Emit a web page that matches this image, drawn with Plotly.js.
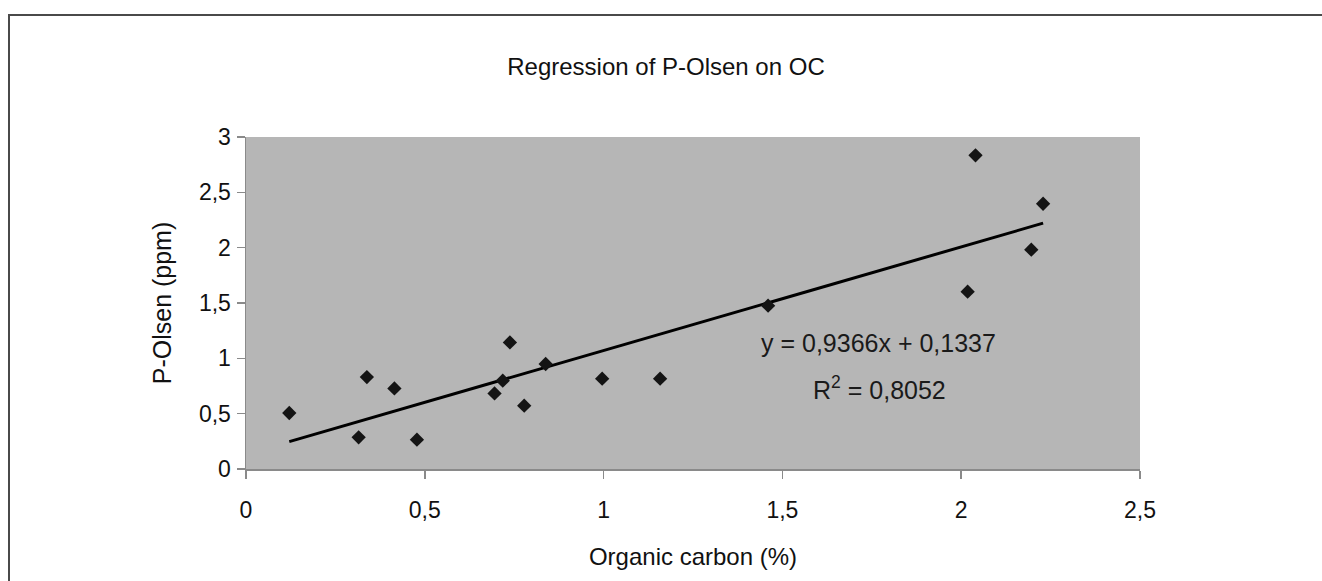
<!DOCTYPE html>
<html>
<head>
<meta charset="utf-8">
<script src="https://cdn.plot.ly/plotly-3.0.1.min.js"></script>
<style>
  html, body { margin: 0; padding: 0; overflow: hidden; background: #fff; }
  #chart { width: 1322px; height: 581px; }
  #frame { position: absolute; left: 8px; top: 14px; width: 3000px; height: 3000px;
           border: 2px solid #4a4a4a; pointer-events: none; box-sizing: border-box; }
</style>
</head>
<body>
<div id="chart"></div>
<div id="frame"></div>
<script>
// Organic carbon (%) and P-Olsen (ppm) readings
const organicCarbon = [0.121, 0.315, 0.338, 0.415, 0.478, 0.695, 0.718, 0.738, 0.778, 0.838, 0.996, 1.158, 1.460, 2.018, 2.040, 2.196, 2.229];
const pOlsen        = [0.506, 0.286, 0.831, 0.728, 0.265, 0.683, 0.798, 1.144, 0.572, 0.949, 0.816, 0.816, 1.476, 1.602, 2.834, 1.982, 2.397];

// Regression shown on the chart
const slope = 0.9366;
const intercept = 0.1337;
const rSquared = 0.8052;

const xTicks = [0, 0.5, 1, 1.5, 2, 2.5];
const yTicks = [0, 0.5, 1, 1.5, 2, 2.5, 3];

const titleText = 'Regression of P-Olsen on OC';
const xTitle = 'Organic carbon (%)';
const yTitle = 'P-Olsen (ppm)';

const fmt = v => v.toFixed(4).replace('.', ',');

const xMin = Math.min(...organicCarbon);
const xMax = Math.max(...organicCarbon);
const trendX = [xMin, xMax];
const trendY = trendX.map(x => slope * x + intercept);

const FONT = 'Liberation Sans, Arial, sans-serif';

const traces = [
  {
    type: 'scatter', mode: 'lines', x: trendX, y: trendY,
    line: { color: '#000000', width: 3 }, hoverinfo: 'skip', showlegend: false
  },
  {
    type: 'scatter', mode: 'markers', x: organicCarbon, y: pOlsen,
    marker: { symbol: 'diamond', size: 11, color: '#141414' }, showlegend: false
  }
];

const layout = {
  width: 1322, height: 581,
  margin: { l: 246, r: 182, t: 137, b: 112, pad: 0 },
  paper_bgcolor: '#ffffff',
  plot_bgcolor: '#b6b6b6',
  separators: ',.',
  font: { family: FONT, color: '#111111', size: 23 },
  title: {
    text: titleText, font: { family: FONT, size: 24, color: '#111111' },
    x: 666 / 1322, xanchor: 'center', xref: 'container',
    y: 1 - 67 / 581, yanchor: 'middle', yref: 'container'
  },
  xaxis: {
    range: [0, 2.5], tickvals: xTicks, ticktext: xTicks.map(v => String(v).replace('.', ',')),
    showgrid: false, zeroline: false, showline: true, linecolor: '#8a8a8a', linewidth: 1.5,
    ticks: 'outside', ticklen: 8, tickcolor: '#8a8a8a', tickwidth: 1.5, ticklabelstandoff: 12,
    tickfont: { family: FONT, size: 23, color: '#111111' },
    title: { text: xTitle, font: { family: FONT, size: 24, color: '#111111' }, standoff: 26 },
    fixedrange: true
  },
  yaxis: {
    range: [0, 3], tickvals: yTicks, ticktext: yTicks.map(v => String(v).replace('.', ',')),
    showgrid: false, zeroline: false, showline: true, linecolor: '#8a8a8a', linewidth: 1.5,
    ticks: 'outside', ticklen: 8, tickcolor: '#8a8a8a', tickwidth: 1.5, ticklabelstandoff: 1,
    tickfont: { family: FONT, size: 23, color: '#111111' },
    title: { text: yTitle, font: { family: FONT, size: 25, color: '#111111' }, standoff: 20 },
    fixedrange: true
  },
  annotations: [
    {
      x: 1.769, y: 1.141, xref: 'x', yref: 'y', showarrow: false,
      text: 'y = ' + fmt(slope) + 'x + ' + fmt(intercept),
      font: { family: FONT, size: 25, color: '#1a1a1a' }, xanchor: 'center', yanchor: 'middle'
    },
    {
      x: 1.772, y: 0.735, xref: 'x', yref: 'y', showarrow: false,
      text: 'R<sup>2</sup> = ' + fmt(rSquared),
      font: { family: FONT, size: 25, color: '#1a1a1a' }, xanchor: 'center', yanchor: 'middle'
    }
  ]
};

Plotly.newPlot('chart', traces, layout, { displayModeBar: false, staticPlot: true });
</script>
</body>
</html>
